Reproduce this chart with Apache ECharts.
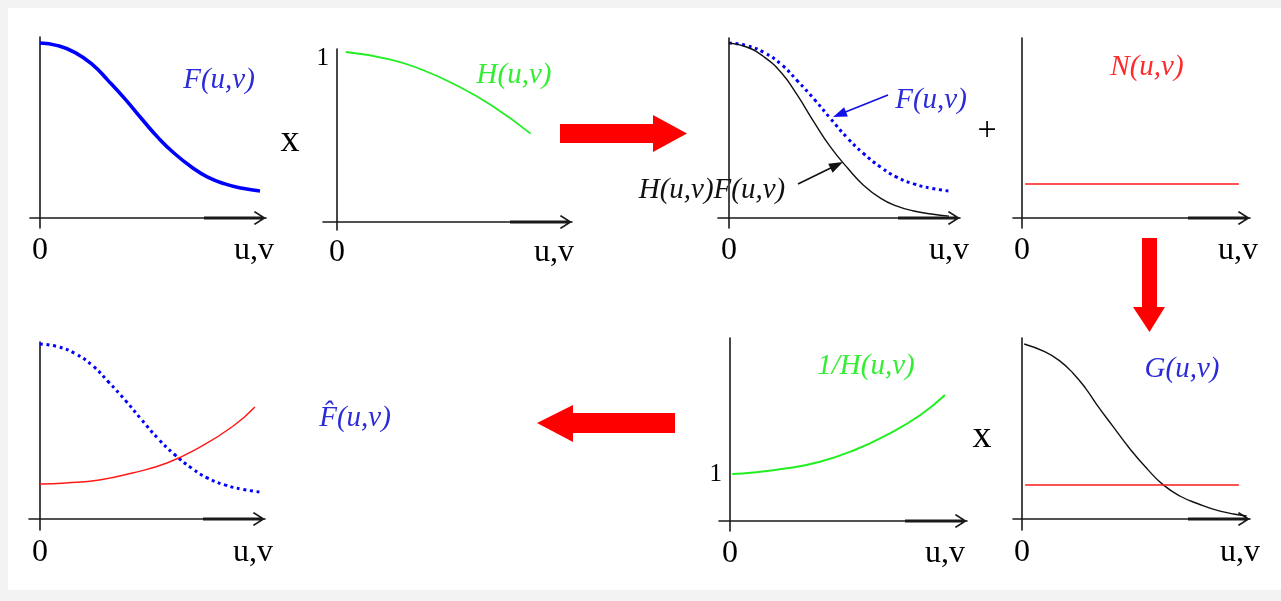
<!DOCTYPE html>
<html>
<head>
<meta charset="utf-8">
<script src="https://cdn.jsdelivr.net/npm/echarts@6/dist/echarts.min.js"></script>
<style>
  html, body { margin: 0; padding: 0; background: #f3f3f3; }
  #chart { width: 1281px; height: 601px; }
</style>
</head>
<body>
<div id="chart"></div>
<script>
// ---- curve samples: u = frequency (0..1), values in plot units ----
const F_U    = [0, 0.08, 0.16, 0.24, 0.31, 0.39, 0.46, 0.54, 0.61, 0.69, 0.76, 0.84, 0.92, 1.0];
const F_VAL  = [1.0, 0.985, 0.945, 0.875, 0.785, 0.675, 0.57, 0.455, 0.37, 0.29, 0.235, 0.195, 0.17, 0.154];
const HF_VAL = [1.0, 0.977, 0.92, 0.827, 0.703, 0.541, 0.408, 0.284, 0.189, 0.112, 0.069, 0.04, 0.023, 0.011];

const H_U   = [0.04, 0.24, 0.39, 0.54, 0.70, 0.88];
const H_VAL = [1.0, 0.957, 0.894, 0.806, 0.688, 0.52];

const INVH_U   = [0.01, 0.106, 0.258, 0.409, 0.561, 0.712, 0.864, 0.977];
const INVH_VAL = [1.0, 1.03, 1.12, 1.26, 1.50, 1.83, 2.25, 2.68];

const N_U   = [0.014, 0.986];
const N_VAL = [0.194, 0.194];

const G_U   = [0.01, 0.103, 0.17, 0.233, 0.29, 0.339, 0.41, 0.491, 0.57, 0.642, 0.72, 0.794, 0.9, 1.021];
const G_VAL = [1.0, 0.956, 0.905, 0.832, 0.745, 0.655, 0.535, 0.40, 0.285, 0.195, 0.13, 0.09, 0.045, 0.017];

const NH_U   = [0, 0.12, 0.27, 0.42, 0.577, 0.727, 0.877, 0.977];
const NH_VAL = [0.2, 0.206, 0.223, 0.263, 0.32, 0.411, 0.53, 0.64];

// axis tick labels
const X_TICK_LABELS = ['0', 'u,v'];
const Y_TICK_LABEL = '1';

// ---- panel layout (pixels): origin, axis extents, vertical scale ----
const SX = 220; // px per unit of u
const PANELS = [
  { ox: 40,   oy: 218, xl: 30,   xr: 266, yt: 37,  yb: 228, sy: 175, uv: 254 },                          // F
  { ox: 337,  oy: 222, xl: 323,  xr: 572, yt: 49,  yb: 230, sy: 170, uv: 554, one: true, va: 'top' },    // H
  { ox: 729,  oy: 218, xl: 718,  xr: 960, yt: 38,  yb: 228, sy: 175, uv: 949 },                          // HF
  { ox: 1022, oy: 218, xl: 1013, xr: 1250, yt: 38, yb: 228, sy: 175, uv: 1238 },                         // N
  { ox: 40,   oy: 519, xl: 29,   xr: 265, yt: 342, yb: 530, sy: 175, uv: 253 },                          // F hat
  { ox: 730,  oy: 521, xl: 719,  xr: 967, yt: 338, yb: 531, sy: 47,  uv: 945, one: true, va: 'middle' }, // 1/H
  { ox: 1022, oy: 519, xl: 1013, xr: 1250, yt: 338, yb: 530, sy: 175, uv: 1240 }                         // G
];

const SERIF = '"Liberation Serif", "DejaVu Serif", serif';
const AXIS_COLOR = '#1a1a1a';
const BLUE = '#0000ff', GREEN = '#22ee22', RED = '#ff1a1a', BLACK = '#111';

// open arrow head with a thicker shaft segment, pointing up (rotated by the axis)
const ARROW_PATH = 'path://M7,0 L14,11 L12.7,12.2 L8.6,5.4 L8.6,62 L5.4,62 L5.4,5.4 L1.3,12.2 L0,11 Z';

const grids = [], xAxes = [], yAxes = [];
PANELS.forEach((p, i) => {
  grids.push({
    left: p.xl, top: p.yt, width: p.xr - p.xl, height: p.yb - p.yt,
    containLabel: false, outerBoundsMode: 'none'
  });
  const uvVal = (p.uv - p.ox) / SX;
  xAxes.push({
    gridIndex: i, type: 'value',
    min: (p.xl - p.ox) / SX, max: (p.xr - p.ox) / SX,
    axisLine: {
      onZero: true,
      symbol: ['none', ARROW_PATH],
      symbolSize: [14, 62],
      symbolOffset: [0, -31],
      lineStyle: { color: AXIS_COLOR, width: 1.6 }
    },
    axisTick: { show: false },
    splitLine: { show: false },
    axisLabel: {
      show: true,
      customValues: [0, uvVal],
      formatter: v => (Math.abs(v) < 1e-9 ? X_TICK_LABELS[0] : X_TICK_LABELS[1]),
      fontFamily: SERIF, fontSize: 32, color: '#000', margin: 7
    }
  });
  yAxes.push({
    gridIndex: i, type: 'value',
    min: -(p.yb - p.oy) / p.sy, max: (p.oy - p.yt) / p.sy,
    axisLine: { onZero: true, lineStyle: { color: AXIS_COLOR, width: 1.6 } },
    axisTick: { show: false },
    splitLine: { show: false },
    axisLabel: p.one ? {
      show: true, customValues: [1],
      formatter: () => Y_TICK_LABEL,
      fontFamily: SERIF, fontSize: 25, color: '#000',
      margin: p.xl - p.ox + 8,
      verticalAlign: p.va,
      lineHeight: p.va === 'top' ? 12 : 25
    } : { show: false }
  });
});

const zip = (u, v) => u.map((x, k) => [x, v[k]]);
function curve(idx, u, v, color, width, type, smooth) {
  return {
    type: 'line', xAxisIndex: idx, yAxisIndex: idx,
    data: zip(u, v), smooth: smooth === undefined ? 0.5 : smooth,
    showSymbol: false, silent: true, clip: false,
    lineStyle: { color: color, width: width, type: type || 'solid' }
  };
}
const DOTS = [3, 3.6];

const series = [
  curve(0, F_U, F_VAL, BLUE, 3.6),
  curve(1, H_U, H_VAL, GREEN, 1.8),
  curve(2, F_U, F_VAL, BLUE, 3, DOTS),
  curve(2, F_U, HF_VAL, BLACK, 1.4),
  curve(3, N_U, N_VAL, RED, 1.4, 'solid', false),
  curve(4, F_U, F_VAL, BLUE, 3, DOTS),
  curve(4, NH_U, NH_VAL, RED, 1.5),
  curve(5, INVH_U, INVH_VAL, GREEN, 2),
  curve(6, G_U, G_VAL, BLACK, 1.4),
  curve(6, N_U, N_VAL, RED, 1.4, 'solid', false)
];

// ---- annotations ----
function label(text, x, y, color, size, italic) {
  return {
    type: 'text', x: x, y: y, silent: true, z: 10,
    style: {
      text: text, fill: color, align: 'center', verticalAlign: 'middle',
      font: (italic ? 'italic ' : '') + size + 'px ' + SERIF
    }
  };
}
function pointer(x1, y1, x2, y2, color) {
  const dx = x2 - x1, dy = y2 - y1, d = Math.hypot(dx, dy);
  const ux = dx / d, uy = dy / d, len = 14, w = 10;
  const bx = x2 - ux * len, by = y2 - uy * len;
  return [
    { type: 'line', silent: true, z: 10,
      shape: { x1: x1, y1: y1, x2: bx + ux * 2, y2: by + uy * 2 },
      style: { stroke: color, lineWidth: 1.6 } },
    { type: 'polygon', silent: true, z: 10,
      shape: { points: [[x2, y2], [bx - uy * w / 2, by + ux * w / 2], [bx + uy * w / 2, by - ux * w / 2]] },
      style: { fill: color } }
  ];
}
function block(points) {
  return { type: 'polygon', silent: true, z: 10, shape: { points: points }, style: { fill: '#ff0000' } };
}

const LBL_BLUE = '#2b2bd8', LBL_GREEN = '#33ee33', LBL_RED = '#ff2a2a';
const LBL_SIZE = 29;

const graphics = [
  { type: 'rect', silent: true, z: -100, shape: { x: 8, y: 8, width: 1273, height: 582 }, style: { fill: '#ffffff' } },

  label('F(u,v)', 219, 80, LBL_BLUE, LBL_SIZE, true),
  label('H(u,v)', 514, 75, LBL_GREEN, LBL_SIZE, true),
  label('F(u,v)', 931, 100, LBL_BLUE, LBL_SIZE, true),
  label('H(u,v)F(u,v)', 712, 190, '#111', LBL_SIZE, true),
  label('N(u,v)', 1147, 67, LBL_RED, LBL_SIZE, true),
  label('F\u0302(u,v)', 355, 418, LBL_BLUE, LBL_SIZE, true),
  label('1/H(u,v)', 866, 366, LBL_GREEN, LBL_SIZE, true),
  label('G(u,v)', 1182, 369, LBL_BLUE, LBL_SIZE, true),

  label('x', 290, 141, '#000', 38, false),
  label('+', 987, 131, '#000', 34, false),
  label('x', 982, 437, '#000', 38, false),

  ...pointer(888, 95, 833, 117, '#1010e8'),
  ...pointer(798, 184, 843, 162, '#111'),

  // process arrows
  block([[560, 124], [653, 124], [653, 115], [687, 133.5], [653, 152], [653, 143], [560, 143]]),
  block([[1142, 238], [1157, 238], [1157, 307], [1165, 307], [1149.5, 332], [1133, 307], [1142, 307]]),
  block([[675, 413], [573, 413], [573, 405], [537, 423], [573, 442], [573, 433], [675, 433]])
];

const chart = echarts.init(document.getElementById('chart'), null, { renderer: 'canvas' });
chart.setOption({
  backgroundColor: 'transparent',
  animation: false,
  grid: grids,
  xAxis: xAxes,
  yAxis: yAxes,
  series: series,
  graphic: graphics
});
</script>
</body>
</html>
